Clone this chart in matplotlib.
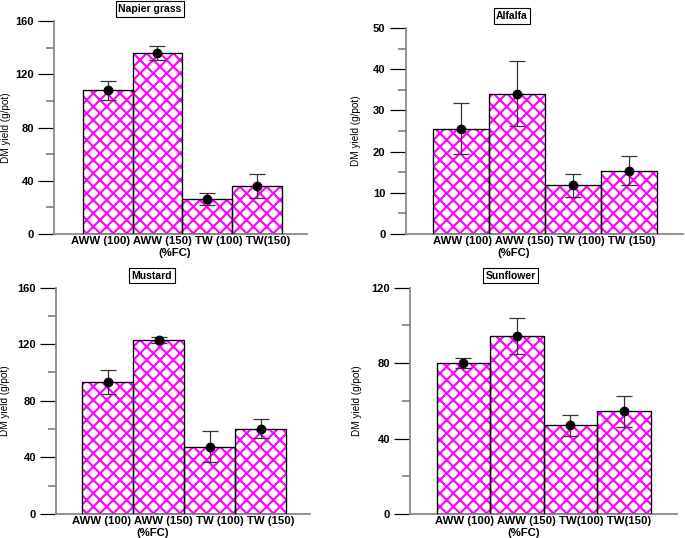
import matplotlib
matplotlib.use('Agg')
import matplotlib.pyplot as plt
from matplotlib.ticker import MultipleLocator

plt.rcParams['font.family'] = ['Liberation Sans', 'DejaVu Sans']
plt.rcParams['hatch.linewidth'] = 1.9

# Data (means and error half-widths, g/pot)
napier_labels = ['AWW (100)', 'AWW (150)', 'TW (100)', 'TW(150)']
napier_mean = [108, 136, 26, 36]
napier_err = [7, 5, 4.5, 9]

alfalfa_labels = ['AWW (100)', 'AWW (150)', 'TW (100)', 'TW (150)']
alfalfa_mean = [25.6, 34.1, 11.8, 15.4]
alfalfa_err = [6.3, 8.0, 2.8, 3.5]

mustard_labels = ['AWW (100)', 'AWW (150)', 'TW (100)', 'TW (150)']
mustard_mean = [93, 123, 47.5, 60.2]
mustard_err = [8.4, 2.0, 11, 6.6]

sunflower_labels = ['AWW (100)', 'AWW (150)', 'TW(100)', 'TW(150)']
sunflower_mean = [80.2, 94.2, 47, 54.5]
sunflower_err = [2.7, 9.4, 5.6, 8.2]

# one entry per panel: title, labels, means, errors, ymax, major, minor
panels = [
    ('Napier grass', napier_labels, napier_mean, napier_err, 160, 40, 20),
    ('Alfalfa', alfalfa_labels, alfalfa_mean, alfalfa_err, 50, 10, 5),
    ('Mustard', mustard_labels, mustard_mean, mustard_err, 160, 40, 20),
    ('Sunflower', sunflower_labels, sunflower_mean, sunflower_err, 120, 40, 20),
]

# axes boxes in figure fraction (left, bottom, width, height)
boxes = [
    [0.0788, 0.565, 0.369, 0.396],
    [0.592, 0.565, 0.405, 0.383],
    [0.0818, 0.0446, 0.371, 0.421],
    [0.5985, 0.0446, 0.3895, 0.421],
]
title_x = [0.85, 0.91, 0.87, 0.88]
xlabel_x = [0.478, 0.39, 0.382, 0.427]
ylabel_x = [-0.17, -0.161, -0.181, -0.181]
xlims = [(-1.08, 4.0), (-0.99, 3.96), (-1.01, 3.97), (-1.0, 3.99)]

fig = plt.figure(figsize=(685 / 80, 538 / 80), dpi=80)

for i, (title, labels, mean, err, ymax, major, minor) in enumerate(panels):
    ax = fig.add_axes(boxes[i])
    x = list(range(len(mean)))

    # hatched fill, then black outline on top
    ax.bar(x, mean, width=1.0, color='white', edgecolor='#ff00ff',
           hatch='xx', linewidth=0, zorder=2)
    ax.bar(x, mean, width=1.0, fill=False, edgecolor='black',
           linewidth=1.2, zorder=3)
    ax.errorbar(x, mean, yerr=err, fmt='o', color='black', markersize=7.8,
                ecolor='#333333', elinewidth=1.1, capsize=7.5, capthick=1.1,
                zorder=4)

    ax.set_xlim(*xlims[i])
    ax.set_ylim(0, ymax)
    ax.yaxis.set_major_locator(MultipleLocator(major))
    ax.yaxis.set_minor_locator(MultipleLocator(minor))

    for s in ['top', 'right']:
        ax.spines[s].set_visible(False)
    for s in ['left', 'bottom']:
        ax.spines[s].set_color('#888888')
        ax.spines[s].set_linewidth(1.6)

    ax.tick_params(axis='y', which='major', length=14.5, width=1.1,
                   color='black', pad=3.5, labelsize=10)
    ax.tick_params(axis='y', which='minor', length=7, width=1.6,
                   color='#888888')
    for t in ax.get_yticklabels():
        t.set_fontweight('bold')

    # category names sit as one line under the axis, as in the original
    ax.set_xticks([])
    ax.annotate(' '.join(labels), xy=(0.5, 0), xycoords='axes fraction',
                xytext=(0, -2.2), textcoords='offset points',
                ha='center', va='top', fontsize=10.2, fontweight='bold')
    ax.annotate('(%FC)', xy=(xlabel_x[i], 0), xycoords='axes fraction',
                xytext=(0, -16.8), textcoords='offset points',
                ha='center', va='center', fontsize=10.2, fontweight='bold')

    ax.set_ylabel('DM yield (g/pot)', fontsize=9)
    ax.yaxis.set_label_coords(ylabel_x[i], 0.5)

    ax.annotate(title, xy=(title_x[i], 1), xycoords=('data', 'axes fraction'),
                xytext=(0, 10.8), textcoords='offset points',
                ha='center', va='center', fontsize=9.3, fontweight='bold',
                bbox=dict(boxstyle='square,pad=0.25', facecolor='white',
                          edgecolor='black', linewidth=1.0),
                annotation_clip=False)

fig.savefig('out.png', dpi=80)
